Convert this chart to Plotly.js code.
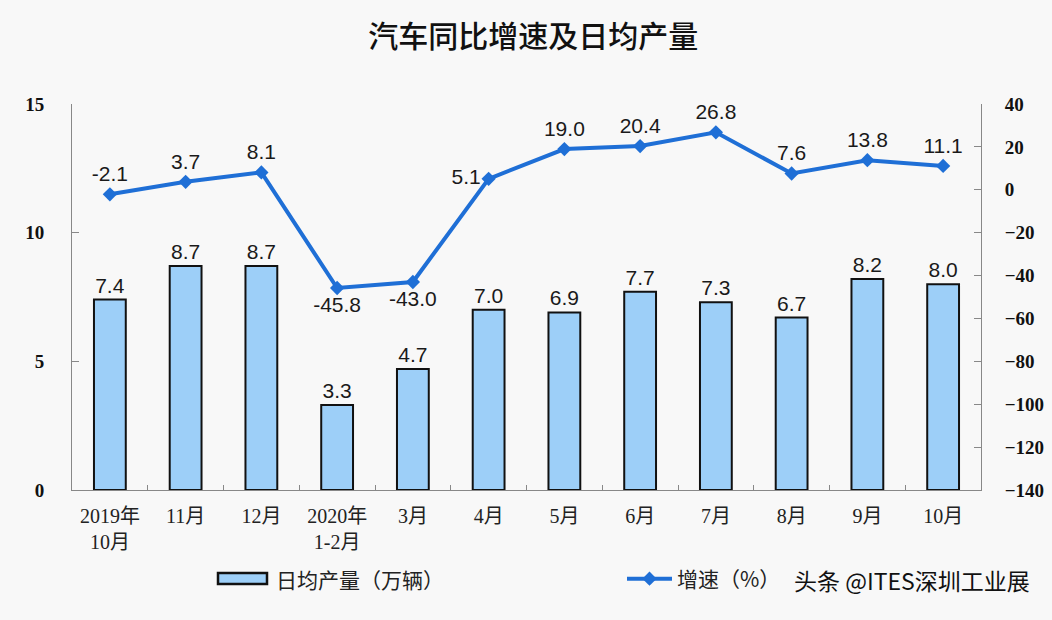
<!DOCTYPE html>
<html>
<head>
<meta charset="utf-8">
<script src="https://cdn.plot.ly/plotly-3.0.1.min.js"></script>
<style>html,body{margin:0;padding:0;background:#f8f8f8;}</style>
</head>
<body>
<div id="chart" style="width:1052px;height:620px;"></div>
<script>
const categories = ["2019年<br>10月", "11月", "12月", "2020年<br>1-2月", "3月", "4月", "5月", "6月", "7月", "8月", "9月", "10月"];
const dailyOutput = [7.4, 8.7, 8.7, 3.3, 4.7, 7.0, 6.9, 7.7, 7.3, 6.7, 8.2, 8.0];
const growthRate = [-2.1, 3.7, 8.1, -45.8, -43.0, 5.1, 19.0, 20.4, 26.8, 7.6, 13.8, 11.1];
const growthLabelPos = ["top center", "top center", "top center", "bottom center", "bottom center", "middle left", "top center", "top center", "top center", "top center", "top center", "top center"];
const leftTicks = [0, 5, 10, 15];
const rightTicks = [-140, -120, -100, -80, -60, -40, -20, 0, 20, 40];
const barSeriesName = '日均产量（万辆）';
const lineSeriesName = '增速（%）';

const serif = "'Liberation Serif', 'Noto Sans CJK SC', serif";
const sans = "'Liberation Sans', 'Noto Sans CJK SC', sans-serif";
const cjk = "'Noto Sans CJK SC', sans-serif";

const W = 1052, H = 620, L = 72, R = 71, T = 104, B = 130;
const pw = W - L - R, ph = H - T - B;
const px = x => (x - L) / pw;
const py = y => (H - B - y) / ph;

const barColor = '#9dcff8';

const traces = [
  {
    type: 'bar',
    name: barSeriesName,
    x: categories,
    y: dailyOutput,
    width: 0.42,
    marker: {color: barColor, line: {color: '#111', width: 2}},
    text: dailyOutput.map(v => v.toFixed(1)),
    textposition: 'outside',
    textfont: {family: sans, size: 21, color: '#1a1a1a'},
    cliponaxis: false,
    yaxis: 'y',
    showlegend: false
  },
  {
    type: 'scatter',
    mode: 'lines+markers+text',
    name: lineSeriesName,
    x: categories,
    y: growthRate,
    yaxis: 'y2',
    line: {color: '#1f6fd6', width: 4},
    marker: {symbol: 'diamond', size: 11, color: '#1f6fd6'},
    text: growthRate.map(v => v.toFixed(1)),
    textposition: growthLabelPos,
    textfont: {family: sans, size: 21, color: '#1a1a1a'},
    cliponaxis: false,
    showlegend: true
  }
];

const layout = {
  width: W, height: H,
  paper_bgcolor: '#f8f8f8',
  plot_bgcolor: '#f8f8f8',
  margin: {l: L, r: R, t: T, b: B},
  title: {text: '汽车同比增速及日均产量', x: 0.507, y: 0.958, xanchor: 'center',
          font: {family: cjk, size: 30, color: '#111', weight: 500}},
  xaxis: {
    range: [-0.5, 11.5], autorange: false,
    showline: true, linecolor: '#888', linewidth: 1,
    ticks: 'inside', tickson: 'boundaries', ticklen: 5, tickcolor: '#888',
    ticklabelstandoff: 8,
    tickfont: {family: serif, size: 20, color: '#222'},
    showgrid: false, zeroline: false
  },
  yaxis: {
    range: [0, 15], tickvals: leftTicks,
    showline: true, linecolor: '#888', linewidth: 1,
    ticks: 'inside', ticklen: 7, tickcolor: '#888',
    ticklabelstandoff: 23,
    tickfont: {family: serif, size: 19, color: '#111', weight: 'bold'},
    showgrid: false, zeroline: false
  },
  yaxis2: {
    overlaying: 'y', side: 'right',
    range: [-140, 40], tickvals: rightTicks,
    showline: true, linecolor: '#888', linewidth: 1,
    ticks: 'inside', ticklen: 7, tickcolor: '#888',
    ticklabelstandoff: 19,
    tickfont: {family: serif, size: 19, color: '#111', weight: 'bold'},
    showgrid: false, zeroline: false
  },
  showlegend: true,
  legend: {
    orientation: 'h', x: px(622), y: py(579), xanchor: 'left', yanchor: 'middle',
    font: {family: cjk, size: 21, color: '#222'},
    bgcolor: 'rgba(0,0,0,0)', itemwidth: 45
  },
  shapes: [
    {type: 'rect', xref: 'paper', yref: 'paper',
     x0: px(218), x1: px(267), y0: py(584), y1: py(573),
     fillcolor: barColor, line: {color: '#111', width: 2.5}}
  ],
  annotations: [
    {text: barSeriesName, xref: 'paper', yref: 'paper', x: px(274), y: py(579),
     xanchor: 'left', yanchor: 'middle', showarrow: false,
     font: {family: cjk, size: 21, color: '#222'}},
    {text: '头条 @ITES深圳工业展', xref: 'paper', yref: 'paper', x: px(792), y: py(580),
     xanchor: 'left', yanchor: 'middle', showarrow: false,
     font: {family: cjk, size: 23, color: '#111'}}
  ]
};

Plotly.newPlot('chart', traces, layout, {displayModeBar: false});
</script>
</body>
</html>
